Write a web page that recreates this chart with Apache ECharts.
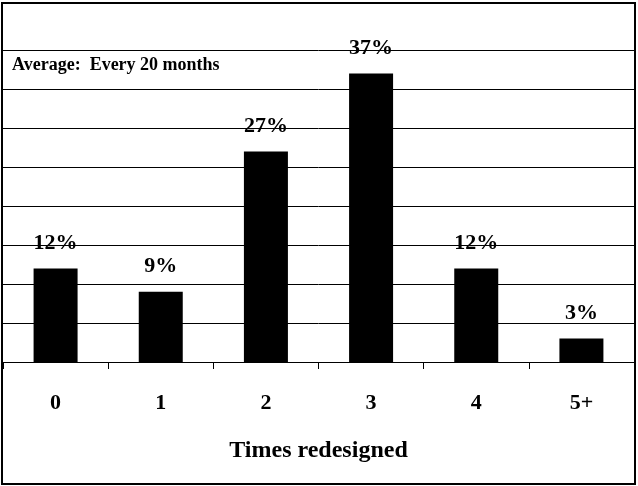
<!DOCTYPE html>
<html>
<head>
<meta charset="utf-8">
<script src="https://cdn.jsdelivr.net/npm/echarts@6/dist/echarts.min.js"></script>
<style>
  html, body { margin: 0; padding: 0; background: #fff; }
  #main { width: 638px; height: 486px; }
</style>
</head>
<body>
<div id="main"></div>
<script>
// times a design was redone, and share of respondents (%)
const categories = ['0', '1', '2', '3', '4', '5+'];
const shares = [12, 9, 27, 37, 12, 3];
const note = 'Average:  Every 20 months';

const serif = '"Liberation Serif", "Times New Roman", serif';

const chart = echarts.init(document.getElementById('main'));

const option = {
  backgroundColor: '#fff',
  animation: false,
  grid: { left: 3, right: 4, top: 50, bottom: 124 },
  graphic: [
    {
      type: 'rect',
      shape: { x: 2, y: 3, width: 633, height: 481 },
      style: { fill: 'none', stroke: '#000', lineWidth: 2 },
      z: 10
    },
    {
      type: 'text',
      left: 12,
      top: 56,
      style: {
        text: note,
        font: 'bold 18px ' + serif,
        fill: '#000'
      }
    }
  ],
  xAxis: {
    type: 'category',
    data: categories,
    name: 'Times redesigned',
    nameLocation: 'middle',
    nameGap: 77,
    nameTextStyle: { fontFamily: serif, fontWeight: 'bold', fontSize: 24, color: '#000' },
    axisLine: { lineStyle: { color: '#000', width: 1 } },
    axisTick: { show: true, length: 7, lineStyle: { color: '#000' } },
    axisLabel: { margin: 30, fontFamily: serif, fontWeight: 'bold', fontSize: 22, color: '#000' }
  },
  yAxis: {
    type: 'value',
    min: 0,
    max: 40,
    interval: 5,
    axisLabel: { show: false },
    axisLine: { show: false },
    axisTick: { show: false },
    splitLine: { lineStyle: { color: '#000', width: 1 } }
  },
  series: [
    {
      type: 'bar',
      data: shares,
      barWidth: 44,
      itemStyle: { color: '#000' },
      label: {
        show: true,
        position: 'top',
        distance: 14,
        formatter: '{c}%',
        fontFamily: serif,
        fontWeight: 'bold',
        fontSize: 22,
        color: '#000'
      }
    }
  ]
};

chart.setOption(option);
</script>
</body>
</html>
